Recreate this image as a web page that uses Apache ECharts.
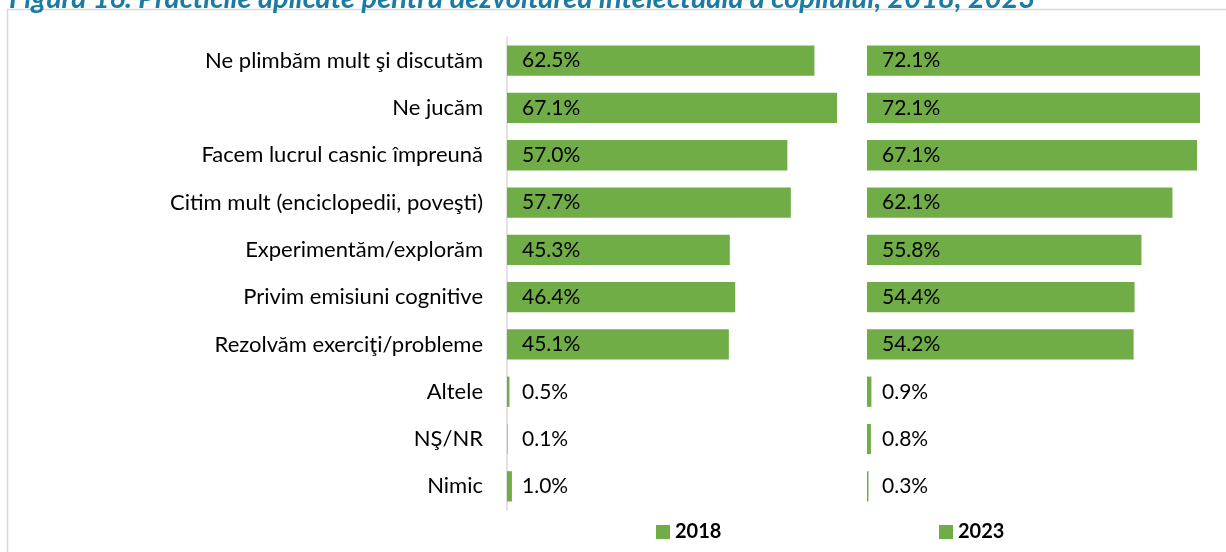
<!DOCTYPE html>
<html>
<head>
<meta charset="utf-8">
<script src="https://cdn.jsdelivr.net/npm/echarts@6/dist/echarts.min.js"></script>
<style>
  html, body { margin: 0; padding: 0; background: #fff; }
  #chart { width: 1226px; height: 552px; }
</style>
</head>
<body>
<div id="chart"></div>
<script>
// practici pentru dezvoltarea intelectuala, 2018 vs 2023
const categories = [
  'Ne plimbăm mult şi discutăm',
  'Ne jucăm',
  'Facem lucrul casnic împreună',
  'Citim mult (enciclopedii, poveşti)',
  'Experimentăm/explorăm',
  'Privim emisiuni cognitive',
  'Rezolvăm exerciţi/probleme',
  'Altele',
  'NŞ/NR',
  'Nimic'
]
const values2018 = [62.5, 67.1, 57.0, 57.7, 45.3, 46.4, 45.1, 0.5, 0.1, 1.0]
const values2023 = [72.1, 72.1, 67.1, 62.1, 55.8, 54.4, 54.2, 0.9, 0.8, 0.3]
const seriesNames = ['2018', '2023']

const green = '#70ad47'
const font = 'Lato'
const axisMax = 67.7

function barSeries(name, data, idx) {
  return {
    type: 'bar',
    name: name,
    data: data,
    xAxisIndex: idx,
    yAxisIndex: idx,
    barCategoryGap: '36%',
    clip: true,
    itemStyle: { color: green },
    label: {
      show: true,
      position: 'insideLeft',
      distance: 15,
      color: '#000',
      fontFamily: font,
      fontSize: 21,
      formatter: p => p.value.toFixed(1) + '%'
    }
  }
}

let option = {
  animation: false,
  textStyle: { fontFamily: font },
  title: {
    text: 'Figura 16. Practicile aplicate pentru dezvoltarea intelectuală a copilului, 2018, 2023',
    left: 4,
    top: -21,
    textStyle: {
      color: '#1b7ba3',
      fontFamily: font,
      fontStyle: 'italic',
      fontWeight: 'bold',
      fontSize: 29
    }
  },
  graphic: [{
    type: 'rect',
    shape: { x: 7.5, y: 9.5, width: 1240, height: 560 },
    style: { fill: null, stroke: '#d9d9d9', lineWidth: 1.5 },
    silent: true
  }],
  legend: [
    {
      data: [seriesNames[0]], left: 651, top: 517,
      itemWidth: 14, itemHeight: 14, icon: 'rect', itemGap: 5,
      textStyle: { fontFamily: font, fontSize: 20, fontWeight: 'bold', color: '#000' }
    },
    {
      data: [seriesNames[1]], left: 934, top: 517,
      itemWidth: 14, itemHeight: 14, icon: 'rect', itemGap: 5,
      textStyle: { fontFamily: font, fontSize: 20, fontWeight: 'bold', color: '#000' }
    }
  ],
  grid: [
    { left: 507, width: 333, top: 37, height: 473 },
    { left: 867, width: 333, top: 37, height: 473 }
  ],
  xAxis: [
    { type: 'value', gridIndex: 0, min: 0, max: axisMax, show: false },
    { type: 'value', gridIndex: 1, min: 0, max: axisMax, show: false }
  ],
  yAxis: [
    {
      type: 'category', gridIndex: 0, data: categories, inverse: true,
      axisLine: { show: true, lineStyle: { color: '#d9d9d9', width: 1.5 } },
      axisTick: { show: false },
      axisLabel: { color: '#000', fontFamily: font, fontSize: 22, margin: 24 }
    },
    {
      type: 'category', gridIndex: 1, data: categories, inverse: true,
      axisLine: { show: false },
      axisTick: { show: false },
      axisLabel: { show: false }
    }
  ],
  series: [
    barSeries(seriesNames[0], values2018, 0),
    barSeries(seriesNames[1], values2023, 1)
  ]
}

echarts.init(document.getElementById('chart')).setOption(option)
</script>
</body>
</html>
